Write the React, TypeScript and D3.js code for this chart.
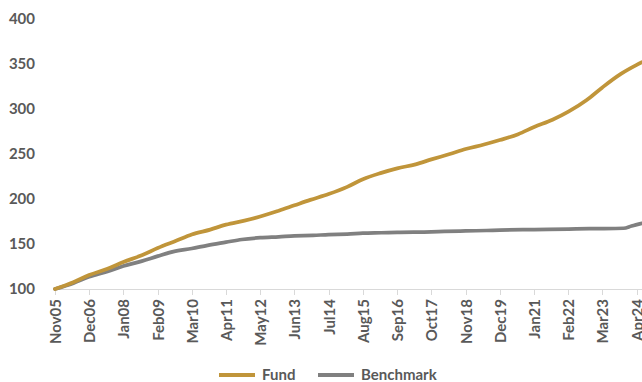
import React from "react";
import * as d3 from "d3";

const fundDates = ["2005-11","2006-06","2006-12","2007-07","2008-01","2008-08","2009-02","2009-09","2010-03","2010-10","2011-04","2011-11","2012-05","2012-12","2013-06","2013-12","2014-07","2015-02","2015-08","2016-03","2016-09","2017-04","2017-10","2018-05","2018-11","2019-06","2019-12","2020-07","2021-01","2021-08","2022-02","2022-09","2023-03","2023-10","2024-04","2024-06"];
const fundValues = [100,107.5,115.5,122.5,130,137.5,145.5,153.5,160.5,166,171.5,176,180.5,187,193,199,205.5,213.5,222,229,234,238.5,244,250,255.5,260.5,265.5,272,280,288,297,310,324,339,349,352];

const benchDates = ["2005-11","2006-06","2006-12","2007-07","2008-01","2008-08","2009-02","2009-08","2010-03","2010-09","2011-04","2011-10","2012-05","2012-12","2013-06","2014-01","2014-07","2015-02","2015-08","2016-03","2016-09","2017-10","2018-03","2018-11","2019-07","2019-12","2021-01","2022-02","2022-10","2023-11","2024-02","2024-06"];
const benchValues = [100,106.5,113.5,119.5,125.5,131,136.5,141.5,145,148.5,152,155,157,158,159,159.5,160.5,161,162,162.5,163,163.5,164,164.5,165,165.5,166,166.5,167,167.5,170,173];

const xTickLabels = ["Nov05","Dec06","Jan08","Feb09","Mar10","Apr11","May12","Jun13","Jul14","Aug15","Sep16","Oct17","Nov18","Dec19","Jan21","Feb22","Mar23","Apr24"];
const yTicks = [100,150,200,250,300,350,400];

const seriesNames = ["Fund", "Benchmark"];
const seriesColors = ["#C0953A", "#808080"];

const W = 642, H = 382;
const FONT = "Lato, 'Open Sans', sans-serif";

export default function App() {
  const parseD = d3.timeParse("%Y-%m");
  const parseT = d3.timeParse("%b%y");
  const x = d3.scaleTime()
    .domain([parseD("2005-11")!, parseD("2024-06")!])
    .range([55, 642]);
  const y = d3.scaleLinear().domain([100, 400]).range([289, 19]);
  const line = d3.line<[Date, number]>()
    .x(d => x(d[0]))
    .y(d => y(d[1]))
    .curve(d3.curveMonotoneX);
  const fund: [Date, number][] = fundDates.map((d, i) => [parseD(d)!, fundValues[i]]);
  const bench: [Date, number][] = benchDates.map((d, i) => [parseD(d)!, benchValues[i]]);
  const [x0, x1] = x.range();

  return (
    <svg width={W} height={H} style={{ position: "absolute", left: 0, top: 0, background: "#fff" }}>
      {/* y labels */}
      {yTicks.map(t => (
        <text key={t} x={35} y={y(t)} dy="0.35em" textAnchor="end"
          fontFamily={FONT} fontWeight={700} fontSize={15} fill="#595959">{t}</text>
      ))}
      {/* x axis */}
      <line x1={x0} x2={x1} y1={289.5} y2={289.5} stroke="#D9D9D9" strokeWidth={1} />
      {xTickLabels.map(l => {
        const tx = Math.round(x(parseT(l)!)) + 0.5;
        return (
          <g key={l}>
            <line x1={tx} x2={tx} y1={289.5} y2={295} stroke="#D9D9D9" strokeWidth={1} />
            <text transform={`translate(${tx},${299}) rotate(-90)`} textAnchor="end" dy="0.35em"
              fontFamily={FONT} fontWeight={700} fontSize={15} fill="#595959">{l}</text>
          </g>
        );
      })}
      {/* lines */}
      <path d={line(bench) ?? ""} fill="none" stroke={seriesColors[1]} strokeWidth={3.75} strokeLinejoin="round" strokeLinecap="round" />
      <path d={line(fund) ?? ""} fill="none" stroke={seriesColors[0]} strokeWidth={3.75} strokeLinejoin="round" strokeLinecap="round" />
      {/* legend */}
      {seriesNames.map((n, i) => {
        const lx = i === 0 ? 219 : 318;
        return (
          <g key={n}>
            <line x1={lx} x2={lx + 36} y1={375} y2={375} stroke={seriesColors[i]} strokeWidth={4} />
            <text x={lx + 43} y={375} dy="0.35em" fontFamily={FONT} fontWeight={700} fontSize={15} fill="#595959">{n}</text>
          </g>
        );
      })}
    </svg>
  );
}
